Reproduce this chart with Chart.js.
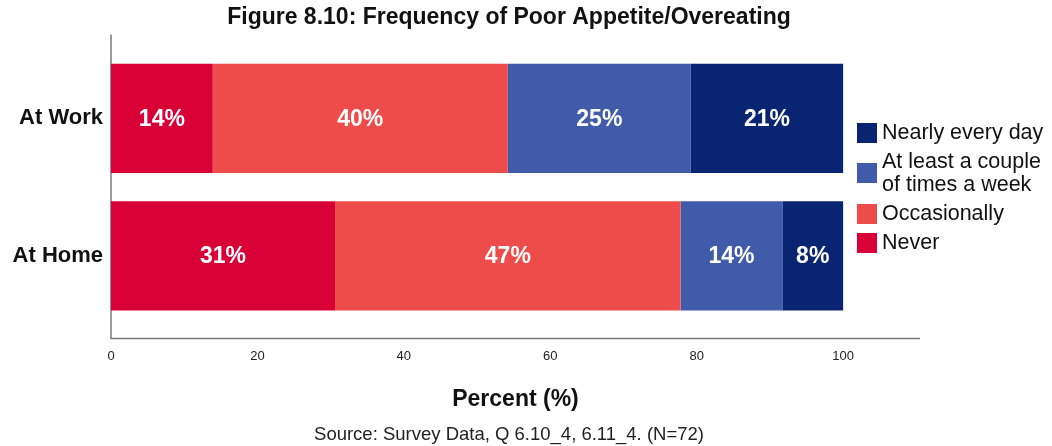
<!DOCTYPE html>
<html>
<head>
<meta charset="utf-8">
<script src="https://cdn.jsdelivr.net/npm/chart.js@4.4.0/dist/chart.umd.min.js"></script>
<style>
  html, body { margin: 0; padding: 0; background: #fff; }
  #wrap { position: relative; width: 1052px; height: 446px; }
  #box { position: absolute; left: 0; top: 0; width: 1018px; height: 446px; }
  #legend { position: absolute; left: 857px; top: 121px; font-family: "Liberation Sans", Arial, sans-serif;
            font-size: 21.5px; line-height: 23px; color: #111; }
  #legend .item { display: flex; align-items: center; margin-bottom: 6px; }
  #legend .sw { width: 20px; height: 20px; margin-right: 5px; flex: none; }
</style>
</head>
<body>
<div id="wrap">
  <div id="box"><canvas id="freq-chart"></canvas></div>
  <div id="legend"></div>
</div>
<script>
// Data
var categories = ["At Work", "At Home"];
var seriesNames = ["Never", "Occasionally", "At least a couple of times a week", "Nearly every day"];
var never        = [13.9, 30.6];
var occasionally = [40.3, 47.2];
var coupleWeek   = [25.0, 13.9];
var everyDay     = [20.8, 8.3];
var xTicks = [0, 20, 40, 60, 80, 100];

var colors = ["#D80036", "#EE4B4B", "#3F5BA9", "#092571"];
var FONT = '"Liberation Sans", Arial, sans-serif';

// legend (drawn in reverse, like the reference)
var legendRows = [
  { text: "Nearly every day", color: colors[3] },
  { text: "At least a couple<br>of times a week", color: colors[2] },
  { text: "Occasionally", color: colors[1] },
  { text: "Never", color: colors[0] }
];
var lg = document.getElementById("legend");
legendRows.forEach(function (r) {
  var d = document.createElement("div");
  d.className = "item";
  d.innerHTML = '<span class="sw" style="background:' + r.color + '"></span><span>' + r.text + '</span>';
  lg.appendChild(d);
});

// white percent labels in the middle of each segment
var segLabels = {
  id: "segLabels",
  afterDatasetsDraw: function (chart) {
    var ctx = chart.ctx;
    ctx.save();
    ctx.fillStyle = "#fff";
    ctx.font = "bold 23px " + FONT;
    ctx.textAlign = "center";
    ctx.textBaseline = "middle";
    chart.data.datasets.forEach(function (ds, i) {
      chart.getDatasetMeta(i).data.forEach(function (bar, j) {
        ctx.fillText(Math.round(ds.data[j]) + "%", (bar.x + bar.base) / 2, bar.y + 1);
      });
    });
    ctx.restore();
  }
};

// axis lines sticking out past the bars like the SPSS frame
var frame = {
  id: "frame",
  beforeDatasetsDraw: function (chart) {
    var a = chart.chartArea, ctx = chart.ctx;
    ctx.save();
    ctx.strokeStyle = "#7a7a7a";
    ctx.lineWidth = 1.5;
    ctx.beginPath();
    ctx.moveTo(a.left, a.top - 15);
    ctx.lineTo(a.left, a.bottom + 14);
    ctx.lineTo(a.right, a.bottom + 14);
    ctx.stroke();
    ctx.restore();
  }
};

var ctx = document.getElementById("freq-chart");
var chart = new Chart(ctx, {
  type: "bar",
  data: {
    labels: categories,
    datasets: [
      { label: seriesNames[0], data: never, backgroundColor: colors[0] },
      { label: seriesNames[1], data: occasionally, backgroundColor: colors[1] },
      { label: seriesNames[2], data: coupleWeek, backgroundColor: colors[2] },
      { label: seriesNames[3], data: everyDay, backgroundColor: colors[3] }
    ]
  },
  options: {
    indexAxis: "y",
    responsive: true,
    maintainAspectRatio: false,
    animation: false,
    categoryPercentage: 1,
    barPercentage: 0.796,
    layout: { padding: 0 },
    plugins: {
      legend: { display: false },
      tooltip: { enabled: false },
      title: {
        display: true,
        text: "Figure 8.10: Frequency of Poor Appetite/Overeating",
        color: "#111",
        font: { family: FONT, size: 23, weight: "bold" },
        padding: { top: 4, bottom: 18 }
      },
      subtitle: {
        display: true,
        position: "bottom",
        text: "Source: Survey Data, Q 6.10_4, 6.11_4. (N=72)",
        color: "#222",
        font: { family: FONT, size: 18.5 },
        padding: { top: 4, bottom: 0 }
      }
    },
    scales: {
      x: {
        stacked: true,
        min: 0,
        max: 110.5,
        grid: { display: false, drawTicks: false },
        border: { display: false },
        afterBuildTicks: function (scale) {
          scale.ticks = xTicks.map(function (v) { return { value: v }; });
        },
        ticks: { color: "#222", padding: 24, font: { family: FONT, size: 13 } },
        title: {
          display: true,
          text: "Percent (%)",
          color: "#111",
          font: { family: FONT, size: 23, weight: "bold" },
          padding: { top: -2, bottom: 6 }
        }
      },
      y: {
        stacked: true,
        grid: { display: false, drawTicks: false },
        border: { display: false },
        afterFit: function (scale) { scale.width = 111; },
        ticks: { color: "#111", padding: 8, font: { family: FONT, size: 22, weight: "bold" } }
      },
      // empty right-hand strip where the legend sits
      gap: {
        type: "linear",
        axis: "y",
        position: "right",
        grid: { display: false, drawTicks: false },
        border: { display: false },
        ticks: { display: false },
        afterFit: function (scale) { scale.width = 98; }
      }
    }
  },
  plugins: [segLabels, frame]
});
</script>
</body>
</html>
